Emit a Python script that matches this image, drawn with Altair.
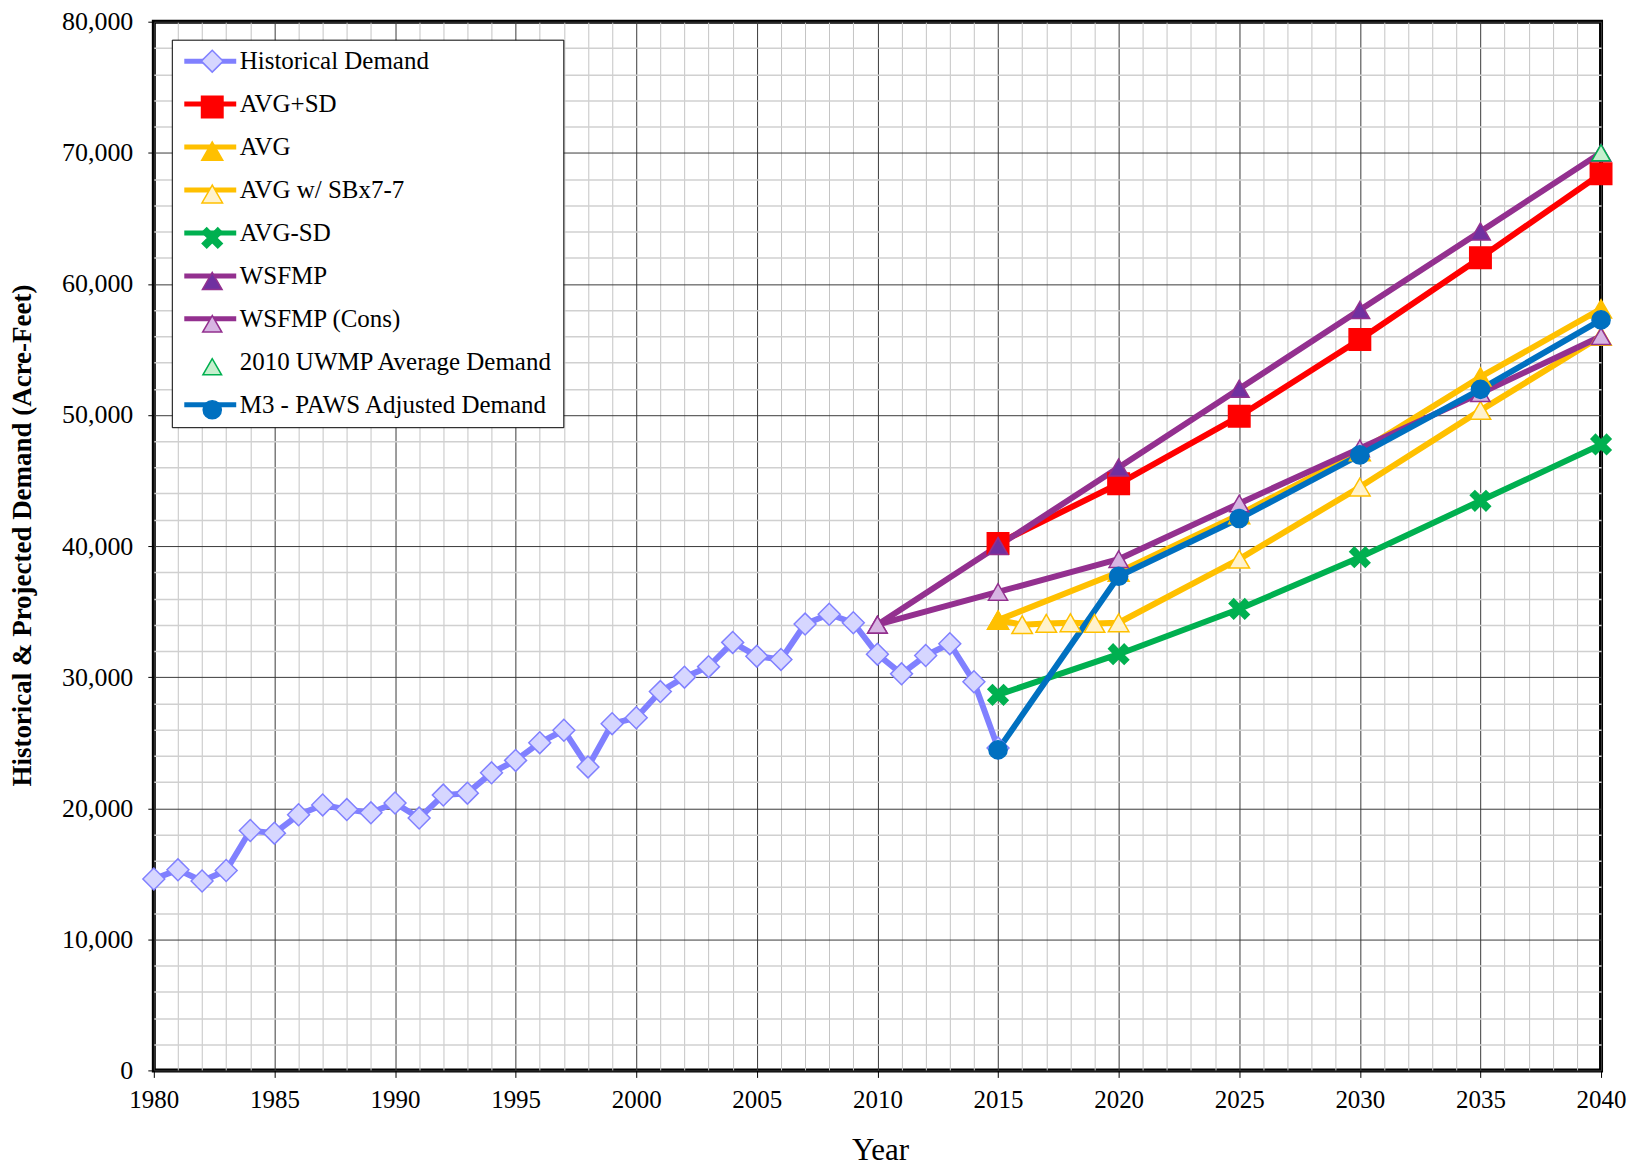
import altair as alt
import pandas as pd

FONT = "Liberation Serif"

# ---------------- data ----------------
hist_years = list(range(1980, 2016))
hist_values = [14600, 15300, 14450, 15250, 18300, 18100, 19500, 20250, 19900, 19650,
               20400, 19250, 21000, 21150, 22700, 23650, 25000, 25950, 23150, 26450,
               26900, 28900, 30000, 30800, 32650, 31600, 31350, 34050, 34800, 34150,
               31750, 30250, 31650, 32550, 29650, 24600]

proj_years = [2015, 2020, 2025, 2030, 2035, 2040]
avg_plus_sd = [40200, 44750, 49900, 55750, 62000, 68400]
avg_values = [34350, 38000, 42400, 47200, 52900, 58100]
avg_minus_sd = [28650, 31750, 35200, 39150, 43450, 47750]
m3_values = [24450, 37700, 42100, 46950, 51950, 57250]

sbx_years = [2015, 2016, 2017, 2018, 2019, 2020, 2025, 2030, 2035, 2040]
sbx_values = [34350, 34000, 34100, 34150, 34100, 34150, 39000, 44500, 50350, 56000]

wsfmp_years = [2010, 2015, 2020, 2025, 2030, 2035, 2040]
wsfmp_values = [34000, 40000, 46000, 52000, 58000, 64000, 70000]
wsfmp_cons_values = [34000, 36500, 39000, 43250, 47450, 51650, 56000]

uwmp_years = [2040]
uwmp_values = [70000]

series_names = ["Historical Demand", "AVG+SD", "AVG", "AVG w/ SBx7-7", "AVG-SD",
                "WSFMP", "WSFMP (Cons)", "2010 UWMP Average Demand",
                "M3 - PAWS Adjusted Demand"]
line_colors = ["#8080FF", "#FF0000", "#FFC000", "#FFC000", "#00B050",
               "#93308F", "#93308F", "transparent", "#0070C0"]
marker_fills = ["#D6D6FF", "#FF0000", "#FFC000", "#FFF2CC", "#00B050",
                "#7030A0", "#D7B5E3", "#C6EFCE", "#0070C0"]
marker_strokes = ["#8080FF", "#FF0000", "#FFC000", "#FFC000", "#00B050",
                  "#93308F", "#93308F", "#00B050", "#0070C0"]
X_PATH = ("M-1,-0.55L-0.55,-1L0,-0.45L0.55,-1L1,-0.55L0.45,0L1,0.55L0.55,1L0,0.45"
          "L-0.55,1L-1,0.55L-0.45,0Z")
marker_shapes = ["diamond", "square", "triangle-up", "triangle-up", X_PATH,
                 "triangle-up", "triangle-up", "triangle-up", "circle"]
marker_sizes = [480, 330, 450, 450, 400, 450, 450, 380, 420]
marker_stroke_widths = [1.5, 1.5, 1.5, 1.5, 1.5, 1.5, 1.5, 3.5, 1.5]

# drawing order (bottom -> top)
draw_order = [
    ("Historical Demand", hist_years, hist_values),
    ("AVG+SD", proj_years, avg_plus_sd),
    ("AVG-SD", proj_years, avg_minus_sd),
    ("AVG w/ SBx7-7", sbx_years, sbx_values),
    ("AVG", proj_years, avg_values),
    ("WSFMP", wsfmp_years, wsfmp_values),
    ("WSFMP (Cons)", wsfmp_years, wsfmp_cons_values),
    ("2010 UWMP Average Demand", uwmp_years, uwmp_values),
    ("M3 - PAWS Adjusted Demand", proj_years, m3_values),
]

# the marker legend uses keys with a trailing space so that it stays a separate
# legend (its labels are blank; it only overlays the markers on the line legend)
marker_keys = [n + " " for n in series_names]

rows = []
for name, yrs, vals in draw_order:
    for yr, v in zip(yrs, vals):
        rows.append({"series": name, "series_m": name + " ", "year": yr, "value": v})
df = pd.DataFrame(rows)
df_lines = df[df["series"] != "2010 UWMP Average Demand"]

# ---------------- axes ----------------
x_scale = alt.Scale(domain=[1980, 2040], nice=False, zero=False)
y_scale = alt.Scale(domain=[0, 80000], nice=False, zero=True)

PLOT_H = 1050

x_axis = alt.Axis(
    values=list(range(1980, 2041)),
    labelExpr="datum.value % 5 === 0 ? '' + datum.value : ''",
    labelOverlap=False, labelFlush=False, labelFont=FONT, labelFontSize=25,
    labelColor="black", labelPadding=10, tickSize=7, tickColor="black", tickWidth=1,
    tickOpacity={"condition": {"test": "datum.value % 5 === 0", "value": 1}, "value": 0},
    gridColor={"condition": {"test": "datum.value % 5 === 0", "value": "#3a3a3a"},
               "value": "#c4c4c4"},
    gridWidth=1, domain=False,
    title="Year", titleFont=FONT, titleFontSize=31, titleFontWeight="normal",
    titleColor="black", titleX=727, titleY=80, titleAlign="center",
    titleBaseline="middle",
)
y_axis = alt.Axis(
    values=list(range(0, 80001, 2000)),
    labelExpr="datum.value % 10000 === 0 ? format(datum.value, ',') : ''",
    labelOverlap=False, labelFlush=False, labelFont=FONT, labelFontSize=26,
    labelColor="black", labelPadding=15, tickSize=6, tickColor="black", tickWidth=1,
    tickOpacity={"condition": {"test": "datum.value % 10000 === 0", "value": 1}, "value": 0},
    gridColor={"condition": {"test": "datum.value % 10000 === 0", "value": "#3a3a3a"},
               "value": "#d0d0d0"},
    gridWidth={"condition": {"test": "datum.value % 10000 === 0", "value": 1}, "value": 1.5},
    domain=False,
    title="Historical & Projected Demand (Acre-Feet)", titleFont=FONT,
    titleFontSize=27, titleFontWeight="bold", titleColor="black",
    titleX=-131, titleY=514, titleAlign="center", titleBaseline="middle", titleAngle=270,
)

LEG_X, LEG_Y = 18, 18
legend_lines = alt.Legend(
    orient="none", legendX=LEG_X, legendY=LEG_Y,
    fillColor="white", strokeColor="black", padding=9, cornerRadius=0,
    labelFont=FONT, labelFontSize=25, labelColor="black", labelLimit=500,
    labelOffset=17, rowPadding=17,
    symbolType="M-2.6,0L2.6,0", symbolSize=400, symbolStrokeWidth=5,
    symbolOffset=17,
)
legend_marks = alt.Legend(
    orient="none", legendX=LEG_X, legendY=LEG_Y,
    padding=9, labelFont=FONT, labelFontSize=25, labelExpr="' '", labelLimit=500,
    labelOffset=17, rowPadding=17,
    symbolOffset=19, symbolOpacity=1,
)

lines = alt.Chart(df_lines).mark_line(strokeWidth=6, strokeJoin="round").encode(
    x=alt.X("year:Q", scale=x_scale, axis=x_axis),
    y=alt.Y("value:Q", scale=y_scale, axis=y_axis),
    color=alt.Color("series:N", scale=alt.Scale(domain=series_names, range=line_colors),
                    legend=legend_lines, title=None),
)

points = alt.Chart(df).mark_point(filled=True, opacity=1).encode(
    x=alt.X("year:Q", scale=x_scale, axis=x_axis),
    y=alt.Y("value:Q", scale=y_scale, axis=y_axis),
    shape=alt.Shape("series_m:N", scale=alt.Scale(domain=marker_keys, range=marker_shapes),
                    legend=legend_marks, title=None),
    fill=alt.Fill("series_m:N", scale=alt.Scale(domain=marker_keys, range=marker_fills),
                  legend=legend_marks, title=None),
    stroke=alt.Stroke("series_m:N", scale=alt.Scale(domain=marker_keys, range=marker_strokes),
                      legend=legend_marks, title=None),
    size=alt.Size("series_m:O", scale=alt.Scale(domain=marker_keys, range=marker_sizes),
                  legend=legend_marks, title=None),
    strokeWidth=alt.StrokeWidth("series_m:O",
                                scale=alt.Scale(domain=marker_keys, range=marker_stroke_widths),
                                legend=legend_marks, title=None),
    order=alt.Order("idx:Q"),
).transform_window(idx="row_number()")

chart = alt.layer(lines, points).properties(
    width=1449, height=PLOT_H,
    autosize=alt.AutoSizeParams(type="none"),
    padding={"left": 146, "top": 13, "right": 30, "bottom": 95},
    background="white",
).configure_view(stroke="black", strokeWidth=4)

chart.save("out.html", embed_options={"renderer": "svg", "actions": False})
